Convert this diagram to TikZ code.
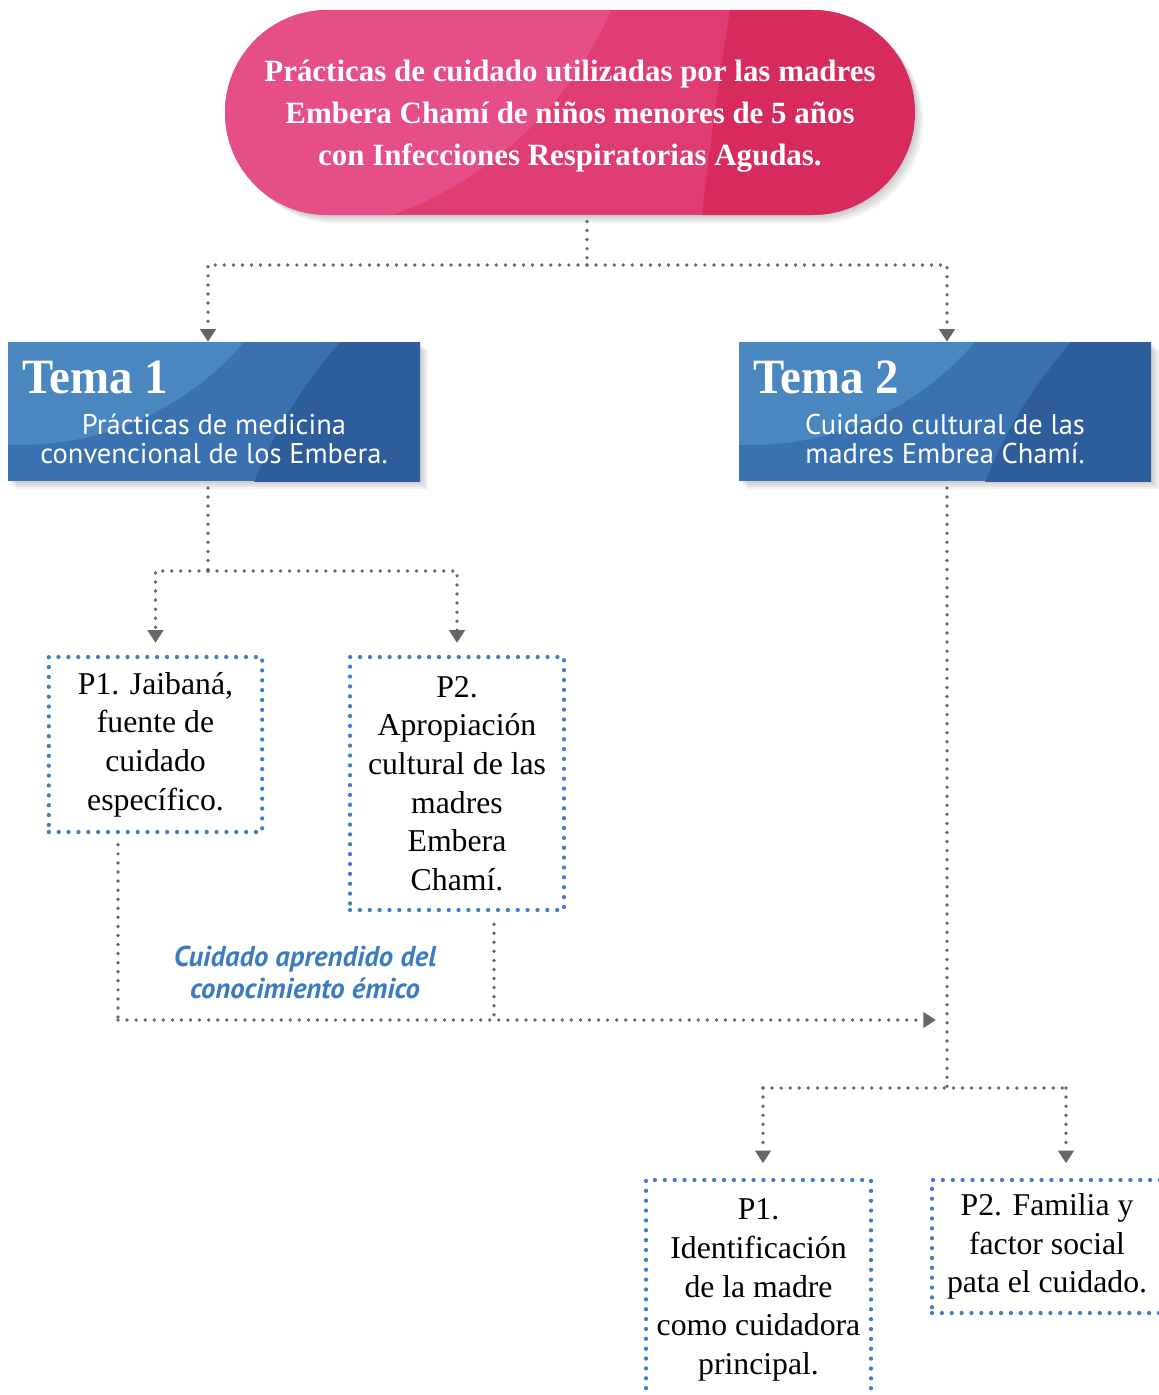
\documentclass[tikz,border=0pt]{standalone}
\usepackage{fontspec}
\setmainfont{Liberation Serif}
\newfontfamily\sansfont{PT Sans}
\newfontfamily\condfont[FakeStretch=0.95]{Liberation Serif}
\usetikzlibrary{arrows.meta}

\definecolor{pinkL}{HTML}{E54E87}
\definecolor{pinkM}{HTML}{DF3D71}
\definecolor{pinkD}{HTML}{D72B5D}
\definecolor{blueL}{HTML}{4A86BF}
\definecolor{blueM}{HTML}{3A71B0}
\definecolor{blueD}{HTML}{2D5D9B}
\definecolor{lineGray}{HTML}{666666}
\definecolor{dotBlue}{HTML}{3F7FC2}
\definecolor{noteBlue}{HTML}{3B7CC0}

\begin{document}
\begin{tikzpicture}[x=0.75pt,y=0.75pt,yscale=-1,xscale=1,
  conn/.style={draw=lineGray, line width=2.8pt, line cap=round, dash pattern=on 0pt off 6.8pt},
  tip/.style={-{Triangle[width=11.5pt,length=9.5pt,fill=lineGray]}},
  titlenode/.style={rectangle, minimum width=517.5pt, minimum height=153.75pt, inner sep=0pt, align=center, text=white, font=\fontsize{23.2}{31.5}\selectfont\bfseries},
  temabox/.style={rectangle, minimum width=309pt, minimum height=104.25pt, inner sep=0pt},
  temahead/.style={inner sep=0pt, anchor=base west, text=white, font=\condfont\bfseries\fontsize{37}{37}\selectfont},
  temasub/.style={inner sep=0pt, align=center, text=white, font=\sansfont\fontsize{21.4}{22}\selectfont},
  pbox/.style={draw=dotBlue, line width=3.2pt, line cap=round, dash pattern=on 0pt off 7.4pt, inner sep=0pt, align=center, font=\fontsize{23.8}{29}\selectfont},
  note/.style={inner sep=0pt, align=center, text=noteBlue, font=\sansfont\bfseries\itshape\fontsize{21.5}{24}\selectfont}
]
\clip (0,0) rectangle (1159,1395);

%Shape: Pill shadow
\foreach \s in {2,4,6,8}
  \fill[black, opacity=0.05, rounded corners=76.875pt] (225+\s,10+\s) rectangle (915+\s,215+\s);
%Shape: Pill
\begin{scope}
  \clip[rounded corners=76.875pt] (225,10) rectangle (915,215);
  \fill[pinkM] (225,10) rectangle (915,215);
  \fill[pinkL] (265,-140) circle[radius=377];
  \fill[pinkD] (730,10) .. controls (716,100) .. (702,215) -- (915,215) -- (915,10) -- cycle;
\end{scope}

%Shape: Tema boxes
\foreach \dx in {0,731} {
  \foreach \s in {2,4,6,8}
    \fill[black, opacity=0.05] (8+\dx+\s,342+\s) rectangle (420+\dx+\s,481+\s);
  \begin{scope}[shift={(\dx,0)}]
    \clip (8,342) rectangle (420,481);
    \fill[blueM] (8,342) rectangle (420,481);
    \fill[blueL] (20,150) circle[radius=295];
    \fill[blueD] (700,660) circle[radius=480];
  \end{scope}
}

% Text Node
\node[titlenode] (title) at (570,116) {Prácticas de cuidado utilizadas por las madres\\Embera Chamí de niños menores de 5 años\\con Infecciones Respiratorias Agudas.};
% Tema 1
\node[temabox] (t1) at (214,411.5) {};
\node[temahead] (t1h) at (22,393) {Tema 1};
\node[temasub] (t1s) at (214,439) {Prácticas de medicina\\convencional de los Embera.};
% Tema 2
\node[temabox] (t2) at (945,411.5) {};
\node[temahead] (t2h) at (753,393) {Tema 2};
\node[temasub] (t2s) at (945,439) {Cuidado cultural de las\\madres Embrea Chamí.};

% P boxes
\node[pbox, minimum width=160pt, minimum height=131.25pt] (p11) at (155.5,744.5) {P1. Jaibaná,\\fuente de\\cuidado\\específico.};
\node[pbox, minimum width=160.5pt, minimum height=189.75pt] (p12) at (457,783.5) {P2.\\Apropiación\\cultural de las\\madres\\Embera\\Chamí.};
\node[pbox, minimum width=168.75pt, minimum height=165pt] (p21) at (758.5,1290) {P1.\\Identificación\\de la madre\\como cuidadora\\principal.};
\node[pbox, minimum width=172.5pt, minimum height=99.75pt] (p22) at (1047,1246.5) {P2. Familia y\\factor social\\pata el cuidado.};

% Text Node
\node[note] (lbl) at (305,972) {Cuidado aprendido del\\conocimiento émico};

% junctions
\coordinate (jt) at (587,265);
\coordinate (a1) at (208,265);
\coordinate (a2) at (947,265);
\coordinate (j1) at (208,571);
\coordinate (jl) at (118,1020);
\coordinate (jm) at (494,1020);
\coordinate (jr) at (936,1020);
\coordinate (j2) at (947,1088);
\coordinate (b1) at (763,1088);
\coordinate (b2) at (1066,1088);

%Straight Lines
\draw[conn] ([yshift=2]title.south -| jt) -- (jt);
\draw[conn,tip] (jt) -- (a1) -- (a1 |- t1.north);
\draw[conn,tip] (jt) -- (a2) -- (a2 |- t2.north);
\draw[conn] ([yshift=5]t1.south -| j1) -- (j1);
\draw[conn,tip,shorten >=9pt] (j1) -| (p11.north);
\draw[conn,tip,shorten >=9pt] (j1) -| (p12.north);
\draw[conn] ([yshift=8]p11.south -| jl) -- (jl);
\draw[conn] ([yshift=9]p12.south -| jm) -- (jm);
\draw[conn,tip] (jl) -- (jr);
\draw[conn] ([yshift=5]t2.south -| j2) -- (j2);
\draw[conn] (b1) -- (b2);
\draw[conn,tip,shorten >=11pt] (b1) -- (b1 |- p21.north);
\draw[conn,tip,shorten >=11pt] (b2) -- (b2 |- p22.north);

\end{tikzpicture}
\end{document}
